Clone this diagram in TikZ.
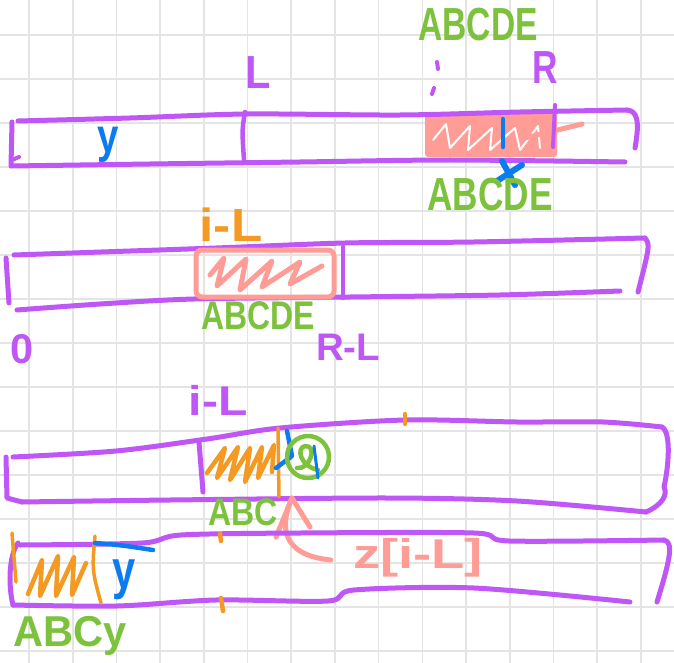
\documentclass[tikz,border=0pt]{standalone}
\usepackage{fontspec}
\usepackage{graphicx}
\setmainfont{Liberation Sans}
\usetikzlibrary{arrows.meta}
\definecolor{pur}{HTML}{BF57F7}
\definecolor{pnk}{HTML}{FF9C96}
\definecolor{org}{HTML}{F49A22}
\definecolor{grn}{HTML}{7CC23C}
\definecolor{blu}{HTML}{0A7CF0}
\definecolor{grd}{HTML}{E4E4E4}
\newcommand{\hw}[3]{\scalebox{#1}[#2]{#3}}
\begin{document}
\begin{tikzpicture}[x=1pt,y=-1pt,line cap=round,line join=round,
  bar/.style={draw=pur,line width=5pt},
  pstroke/.style={draw=pnk,line width=5pt},
  ostroke/.style={draw=org,line width=4.5pt},
  bstroke/.style={draw=blu,line width=4.5pt},
  gstroke/.style={draw=grn,line width=4.5pt},
  lbl/.style={inner sep=0pt,font=\bfseries\fontsize{32}{32}\selectfont}]
\useasboundingbox (0,0) rectangle (674,663);
\fill[white] (0,0) rectangle (674,663);
\foreach \i in {0,...,14} \draw[grd,line width=1.6pt] ({29+43.7*\i},0) -- ({29+43.7*\i},663);
\foreach \j in {0,...,14} \draw[grd,line width=1.6pt] (0,{35+44*\j}) -- (674,{35+44*\j});

% ---------------- Row 1 ----------------
\fill[pnk,rounded corners=3pt] (425,114) rectangle (557,157);
\draw[white,line width=2pt] (433,140) -- (446,124) -- (450,148) -- (470,126) -- (468,150) -- (492,128) -- (490,150)
  -- (515,128) -- (520,150) -- (538,126) -- (540,148);
\draw[pstroke] (525,138) -- (582,124);
\draw[bar] plot[smooth] coordinates {(18,121) (130,118) (247,114) (400,115) (520,112) (627,110)};
\draw[bar] (627,110) .. controls (637,111) and (640,120) .. (635,148);
\draw[bar] plot[smooth] coordinates {(12,166) (150,164) (300,162) (450,160) (625,162)};
\draw[bar] (12,122) -- (11,166);
\draw[pur,line width=4pt] (12,160) -- (19,157);
\draw[pur,line width=4.5pt] (245,112) .. controls (242,130) .. (244,160);
\draw[pur,line width=4pt] (555,105) -- (553,147);
\draw[bstroke] (503,119) -- (503,147);
\draw[bstroke,line width=6pt] (497,181) -- (522,165);
\draw[bstroke,line width=6pt] (502,161) -- (515,185);
\draw[pur,line width=4pt] (437,62) -- (438,69);
\draw[pur,line width=4pt] (434,88) -- (432,94);
\node[lbl,text=pur] (L1) at (258,73) {\hw{1.3}{1.45}{L}};
\node[lbl,text=pur] (R1) at (545,68) {\hw{1.1}{1.45}{R}};
\node[lbl,text=blu] (y1) at (108,145) {\hw{1.2}{1.5}{y}};
\node[lbl,text=grn] (abcTop) at (478,25) {\hw{1.05}{1.45}{ABCDE}};
\node[lbl,text=grn] (abcBot) at (490,195) {\hw{1.1}{1.45}{ABCDE}};

% ---------------- Row 2 ----------------
\draw[bar] plot[smooth] coordinates {(14,255) (216,248) (345,243) (474,242) (645,238)};
\draw[bar] (645,238) .. controls (650,245) .. (638,292);
\draw[bar] plot[smooth] coordinates {(17,310) (100,304) (194,299) (350,297) (500,295) (620,291)};
\draw[bar] (6,258) -- (9,303);
\draw[pur,line width=4.5pt] (343,247) -- (343,298);
\draw[pstroke,rounded corners=6pt] (196,250) rectangle (334,297);
\draw[pstroke] (210,275) -- (224,258) -- (217,286) -- (246,259) -- (240,290) -- (272,261)
  -- (262,287) -- (300,262) -- (290,284) -- (322,266);
\node[lbl,text=org] (iL2) at (231,225) {\hw{1.6}{1.45}{i-L}};
\node[lbl,text=grn] (abc2) at (258,316) {\hw{1.0}{1.25}{ABCDE}};
\node[lbl,text=pur] (RL2) at (348,347) {\hw{1.2}{1.2}{R-L}};
\node[lbl,text=pur] (zero) at (22,349) {\hw{1.3}{1.3}{0}};

% ---------------- Row 3 ----------------
\draw[bar] plot[smooth] coordinates {(13,457) (116,451) (207,439) (280,428) (405,420) (517,422) (603,422) (662,427)};
\draw[bar] (662,427) .. controls (672,433) and (668,470) .. (664,487) .. controls (668,495) and (662,505) .. (646,512);
\draw[bar] plot[smooth] coordinates {(22,502) (170,500) (388,498) (517,501) (646,512)};
\draw[bar] (6,457) -- (7,498) -- (22,502);
\draw[pur,line width=5pt] (199,442) -- (203,492);
\draw[ostroke] (207,473) -- (225,448) -- (217,478) -- (238,447) -- (230,480) -- (250,448) -- (245,482)
  -- (262,447) -- (258,478) -- (274,445) -- (272,472);
\draw[org,line width=3.5pt] (278,428) -- (279,497);
\draw[ostroke] (405,414) -- (405,424);
\draw[bstroke] (287,431) -- (292,456) -- (276,468);
\draw[gstroke] (308,457) circle[radius=21];
\draw[gstroke] (297,468) .. controls (310,470) and (318,445) .. (305,446) .. controls (296,448) and (300,466) .. (318,470);
\draw[bstroke,line width=3pt] (314,446) -- (318,478);
\node[lbl,text=pur] (iL3) at (218,400) {\hw{1.5}{1.3}{i-L}};
\node[lbl,text=grn] (abc3) at (243,512) {\hw{1}{1.2}{ABC}};
\coordinate (apex) at (292,498);
\node[lbl,text=pnk] (zl) at (418,558) {\hw{1.7}{1.3}{z[i-L]}};
\draw[pstroke] ([xshift=-22pt,yshift=-2pt]zl.west) .. controls (280,555) and (280,525) .. (apex);
\draw[pstroke] (276,537) -- (apex) -- (310,527);

% ---------------- Row 4 ----------------
\draw[bar] plot[smooth] coordinates {(20,545) (142,543) (181,535) (300,533) (474,533) (509,541) (664,540)};
\draw[bar] (664,540) .. controls (674,542) and (670,560) .. (657,602);
\draw[bar] plot[smooth] coordinates {(13,605) (117,606) (216,600) (328,601) (354,590) (474,588) (630,602)};
\draw[bar] (18,543) .. controls (9,555) and (8,585) .. (13,605);
\draw[org,line width=3.5pt] (12,533) -- (16,582);
\draw[ostroke] (28,594) -- (42,560) -- (40,596) -- (58,556) -- (56,596) -- (74,557) -- (72,595) -- (86,563);
\draw[org,line width=3.5pt] (95,536) .. controls (92,570) .. (101,603);
\draw[ostroke] (220,534) -- (221,541);
\draw[ostroke] (221,598) -- (223,611);
\draw[bstroke] (95,543) .. controls (120,545) .. (153,550);
\node[lbl,text=blu] (y4) at (124,580) {\hw{1.3}{1.7}{y}};
\node[lbl,text=grn] (abc4) at (70,636) {\hw{1.3}{1.35}{ABCy}};
\end{tikzpicture}
\end{document}
